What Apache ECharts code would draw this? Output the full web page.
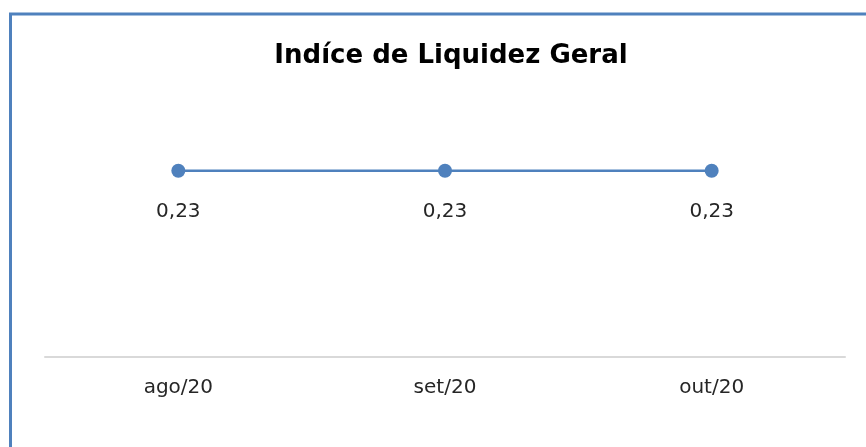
<!DOCTYPE html>
<html>
<head>
<meta charset="utf-8">
<script src="https://cdn.jsdelivr.net/npm/echarts@6/dist/echarts.min.js"></script>
<style>
html,body{margin:0;padding:0;background:#fff;}
#c{width:866px;height:447px;}
</style>
</head>
<body>
<div id="c"></div>
<script>
const categories = ['ago/20', 'set/20', 'out/20'];
const values = [0.23, 0.23, 0.23];
const titleText = 'Indíce de Liquidez Geral';

const chart = echarts.init(document.getElementById('c'), null, {renderer: 'canvas'});
chart.setOption({
  animation: false,
  backgroundColor: '#ffffff',
  title: {
    text: titleText,
    left: 446,
    textAlign: 'center',
    top: 38,
    textStyle: {fontFamily: 'DejaVu Sans', fontWeight: 'bold', fontSize: 26, color: '#000'}
  },
  graphic: [
    {type: 'line', shape: {x1: 9, y1: 14, x2: 866, y2: 14}, style: {stroke: '#4F81BD', lineWidth: 3}},
    {type: 'line', shape: {x1: 10.5, y1: 13, x2: 10.5, y2: 447}, style: {stroke: '#4F81BD', lineWidth: 3}}
  ],
  grid: {left: 45, right: 21, top: 114, bottom: 90},
  xAxis: {
    type: 'category',
    data: categories,
    boundaryGap: true,
    axisLine: {lineStyle: {color: '#d9d9d9', width: 2}},
    axisTick: {show: false},
    axisLabel: {fontFamily: 'DejaVu Sans', fontSize: 20, color: '#262626', margin: 21}
  },
  yAxis: {
    type: 'value', min: 0, max: 0.3, show: false, splitLine: {show: false}
  },
  series: [{
    type: 'line',
    data: values,
    symbol: 'circle',
    symbolSize: 14,
    itemStyle: {color: '#4F81BD'},
    lineStyle: {color: '#4F81BD', width: 2.5},
    label: {
      show: true, position: 'bottom', distance: 24,
      fontFamily: 'DejaVu Sans', fontSize: 20, color: '#262626',
      formatter: p => p.value.toFixed(2).replace('.', ',')
    }
  }]
});
</script>
</body>
</html>
